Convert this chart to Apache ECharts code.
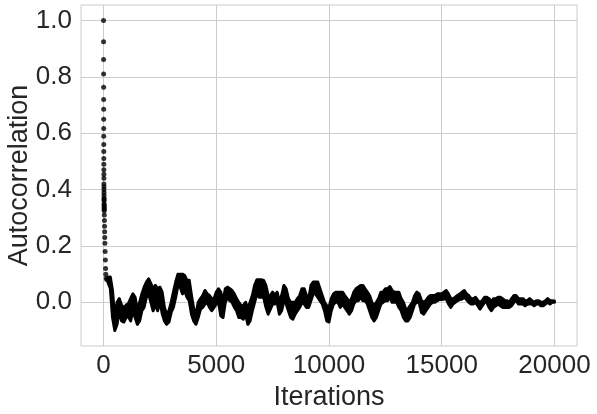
<!DOCTYPE html>
<html>
<head>
<meta charset="utf-8">
<script src="https://cdn.jsdelivr.net/npm/echarts@6/dist/echarts.min.js"></script>
<style>html,body{margin:0;padding:0;background:#fff;}#c{width:597px;height:414px;}</style>
</head>
<body>
<div id="c"></div>
<script>
// Early lags: individual autocorrelation points
const earlyLags = [0,1,2,3,4,5,6,7,8,9,10,11,12,13,14,15,16,17,18,19,20,21,22,23,24,25,26,27,28,29,30,35,40,45,50,55,60,70,80,90,100,120,150];
const earlyVals = [1.0,0.925,0.862,0.81,0.763,0.72,0.685,0.65,0.617,0.589,0.56,0.535,0.51,0.49,0.47,0.454,0.44,0.42,0.41,0.40,0.39,0.38,0.37,0.365,0.36,0.35,0.345,0.34,0.335,0.33,0.325,0.31,0.29,0.27,0.25,0.23,0.21,0.18,0.15,0.12,0.1,0.085,0.08];

// Tail (lag 200 .. 20000, every 100): upper and lower envelope of the dense dots
const tailStart = 200, tailStep = 100;
const tailHigh = [
 0.089,0.09,0.04,-0.06,0.0,0.013,-0.01,-0.02,-0.01,-0.005,
 0.013,0.03,0.018,-0.03,0.0,0.03,0.054,0.072,0.083,0.066,
 0.048,0.06,0.048,0.054,0.036,-0.018,-0.042,-0.03,0.0,0.036,
 0.072,0.1,0.1,0.1,0.095,0.078,0.078,0.024,-0.024,-0.042,
 0.0,0.013,0.024,0.042,0.03,0.024,0.013,0.013,0.036,0.048,
 0.036,0.0,0.048,0.054,0.048,0.042,0.03,0.013,0.0,-0.012,
 -0.012,0.0,-0.024,0.0,0.024,0.06,0.08,0.08,0.08,0.078,
 0.06,0.024,0.024,0.036,0.024,0.036,0.0,0.024,0.06,0.048,
 0.013,0.0,0.0,0.0,0.013,0.024,0.048,0.048,0.024,0.013,
 0.06,0.072,0.072,0.072,0.048,0.024,0.0,-0.012,-0.018,0.013,
 0.03,0.036,0.036,0.036,0.036,0.024,0.013,0.0,0.013,0.036,
 0.048,0.054,0.06,0.06,0.048,0.036,0.024,0.0,-0.012,0.0,
 0.013,0.036,0.036,0.048,0.048,0.056,0.042,0.036,0.036,0.036,
 0.013,0.0,-0.024,-0.024,-0.012,0.0,0.024,0.036,0.03,0.006,
 0.0,0.006,0.018,0.024,0.024,0.024,0.03,0.03,0.03,0.036,
 0.042,0.03,0.013,0.013,0.018,0.024,0.03,0.036,0.042,0.03,
 0.024,0.013,0.013,0.018,0.006,0.0,0.006,0.018,0.018,0.013,
 0.0,0.013,0.013,0.018,0.018,0.013,0.006,0.006,0.0,0.013,
 0.024,0.024,0.013,0.013,0.013,0.006,0.006,0.013,0.006,0.0,
 0.006,0.006,0.0,0.0,0.006,0.013,0.006,0.006,0.005
];
const tailLow = [
 0.07,0.05,-0.055,-0.1,-0.078,-0.03,-0.066,-0.07,-0.054,-0.05,
 -0.066,-0.03,-0.054,-0.078,-0.066,-0.03,-0.017,0.018,0.03,0.0,
 -0.03,-0.005,-0.03,0.006,-0.04,-0.066,-0.078,-0.07,-0.036,-0.017,
 0.018,0.06,0.054,0.03,0.042,0.018,0.006,-0.042,-0.066,-0.078,
 -0.054,-0.024,-0.018,-0.006,0.0,-0.018,-0.03,-0.018,-0.006,0.0,
 -0.048,-0.054,0.0,0.018,0.006,0.0,-0.017,-0.03,-0.054,-0.054,
 -0.06,-0.042,-0.078,-0.066,-0.03,0.0,0.03,0.018,0.018,0.018,
 -0.017,-0.042,-0.024,-0.006,-0.006,0.0,-0.042,-0.03,0.006,-0.006,
 -0.03,-0.054,-0.06,-0.042,-0.03,-0.018,0.0,-0.006,-0.018,-0.018,
 0.006,0.03,0.03,0.018,0.006,-0.006,-0.03,-0.066,-0.07,-0.03,
 -0.006,0.0,0.0,-0.018,-0.006,-0.018,-0.03,-0.042,-0.03,-0.006,
 0.006,0.006,0.018,0.006,0.006,-0.006,-0.03,-0.054,-0.066,-0.054,
 -0.03,-0.006,0.0,0.006,0.006,0.018,0.0,0.0,0.0,-0.018,
 -0.03,-0.054,-0.066,-0.066,-0.054,-0.03,-0.006,0.0,0.0,-0.036,
 -0.042,-0.03,-0.018,-0.006,0.0,0.0,0.006,0.01,0.01,0.012,
 0.012,-0.006,-0.018,-0.006,0.0,0.006,0.01,0.012,0.018,0.01,
 0.0,-0.006,-0.006,0.0,-0.012,-0.024,-0.012,0.0,0.0,-0.018,
 -0.03,-0.018,-0.012,-0.006,-0.012,-0.018,-0.018,-0.018,-0.018,-0.012,
 0.0,0.006,-0.006,-0.006,-0.006,-0.012,-0.006,-0.006,-0.006,-0.012,
 -0.006,-0.006,-0.012,-0.012,-0.006,0.0,-0.006,0.0,0.0
];

const xTicks = [0, 5000, 10000, 15000, 20000];
const yTicks = [0.0, 0.2, 0.4, 0.6, 0.8, 1.0];

// band table: [lag, low, high]
const bandData = tailHigh.map((h, i) => [tailStart + i * tailStep, tailLow[i], h]);
const earlyData = earlyLags.map((l, i) => [l, earlyVals[i]]);

function renderBand(params, api) {
  if (params.dataIndex !== 0) return null;
  const top = [], bot = [];
  for (let i = 0; i < bandData.length; i++) {
    top.push(api.coord([bandData[i][0], bandData[i][2]]));
    bot.push(api.coord([bandData[i][0], bandData[i][1]]));
  }
  const pts = top.concat(bot.reverse());
  return {
    type: 'polygon',
    shape: {points: pts},
    style: {fill: '#000', stroke: '#000', lineWidth: 3, lineJoin: 'round'}
  };
}

const chart = echarts.init(document.getElementById('c'), null, {renderer: 'canvas'});
const txt = '#262626';
const ff = 'Liberation Sans, Arial, sans-serif';
chart.setOption({
  animation: false,
  backgroundColor: '#ffffff',
  grid: {left: 81, right: 20, top: 5, bottom: 68, show: true, borderColor: '#cccccc', borderWidth: 1,
         containLabel: false, outerBoundsMode: 'none'},
  xAxis: {
    type: 'value', min: -1000, max: 21000,
    name: 'Iterations', nameLocation: 'middle', nameGap: 38, nameMoveOverlap: false,
    nameTextStyle: {fontSize: 27, color: txt, fontFamily: ff},
    axisLine: {show: false}, axisTick: {show: false, customValues: xTicks},
    axisLabel: {customValues: xTicks, fontSize: 26, color: txt, fontFamily: ff, margin: 7,
      formatter: v => String(v)},
    splitLine: {show: true, lineStyle: {color: '#cccccc', width: 1}}
  },
  yAxis: {
    type: 'value', min: -0.155, max: 1.055,
    name: 'Autocorrelation', nameLocation: 'middle', nameGap: 48, nameMoveOverlap: false,
    nameTextStyle: {fontSize: 27, color: txt, fontFamily: ff},
    axisLine: {show: false}, axisTick: {show: false, customValues: yTicks},
    axisLabel: {customValues: yTicks, fontSize: 26, color: txt, fontFamily: ff, margin: 9,
      formatter: v => v.toFixed(1)},
    splitLine: {show: true, lineStyle: {color: '#cccccc', width: 1}}
  },
  series: [
    {type: 'custom', data: bandData, renderItem: renderBand, z: 3, silent: true,
     encode: {x: 0, y: [1, 2]}},
    {type: 'scatter', data: earlyData, symbolSize: 5, itemStyle: {color: '#000'}, z: 4}
  ]
});
</script>
</body>
</html>
